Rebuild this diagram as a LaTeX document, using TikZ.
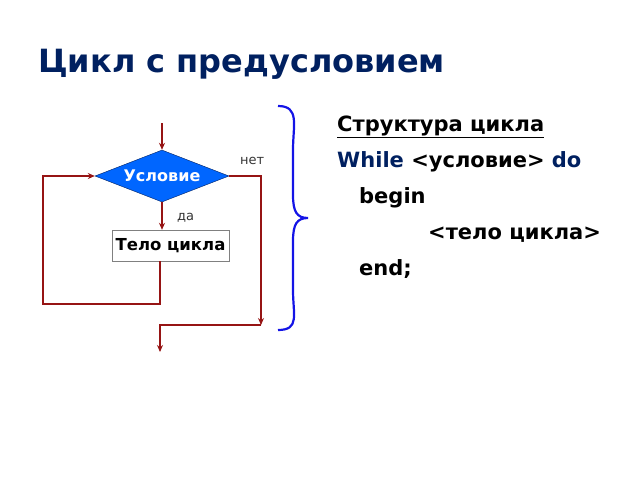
\documentclass[tikz,border=0pt]{standalone}
\usepackage{fontspec}
\setmainfont{DejaVu Sans}
\usepackage{tikz}
\usetikzlibrary{positioning,arrows.meta,shapes.geometric,calc}
\definecolor{fleche}{RGB}{150,20,20}
\definecolor{marine}{RGB}{0,32,96}
\definecolor{losange}{RGB}{0,102,255}
\definecolor{accolade}{RGB}{20,20,230}
\begin{document}
\begin{tikzpicture}[x=1pt, y=-1pt,
    lien/.style={fleche, line width=1.6pt},
    fl/.style={lien, -{Stealth[length=7pt,width=6pt]}},
    cond/.style={diamond, fill=losange, draw=marine, thin, minimum width=134pt, minimum height=52pt, inner sep=0pt, aspect=2.6, text=white, font=\fontsize{16}{18}\selectfont\bfseries},
    bloc/.style={rectangle, draw=gray, fill=white, minimum width=117pt, minimum height=31pt, inner sep=0pt, font=\fontsize{16.5}{18}\selectfont\bfseries},
    code/.style={anchor=base west, inner sep=0pt, font=\fontsize{21}{24}\selectfont\bfseries}]
% Cadre
\useasboundingbox (0,0) rectangle (640,480);

% Titre
\node[anchor=base west, inner sep=0pt, text=marine, font=\fontsize{32}{36}\selectfont\bfseries] (titre) at (38,72) {Цикл с предусловием};

% Schema
\coordinate (entree) at (162,123);
\node[cond] (usl) at (162,176) {Условие};
\node[bloc] (telo) at (170.5,245.5) {Тело цикла};
\coordinate (b1) at (160,304);
\coordinate (b2) at (43,304);
\coordinate (b3) at (43,176);
\coordinate (d1) at (261,176);
\coordinate (d2) at (261,325);
\coordinate (d3) at (160,325);
\coordinate (sortie) at (160,352);

\draw[fl] (entree) -- (usl.north);
\draw[fl] (usl.south) -- (usl.south |- telo.north);
\draw[fl] (telo.south -| b1) -- (b1) -- (b2) -- (b3) -- (usl.west);
\draw[fl] (usl.east) -- (d1) -- (d2);
\draw[fl] (d2) -- (d3) -- (sortie);

\node[anchor=base west, inner sep=0pt, text=black!80, font=\fontsize{13}{15}\selectfont] (net) at (240,164) {нет};
\node[anchor=base west, inner sep=0pt, text=black!80, font=\fontsize{13}{15}\selectfont] (da) at (177,220) {да};

% Accolade
\draw[accolade, line width=2.2pt] (278,106) .. controls (300,106) and (293,125) .. (293,150)
    -- (293,195) .. controls (293,212) and (297,218) .. (308,218)
    .. controls (297,218) and (293,224) .. (293,241)
    -- (293,290) .. controls (293,315) and (300,330) .. (278,330);

% Structure
\node[code] (struct) at (337,131) {\underline{Структура цикла}};
\node[code] (while) at (337,167) {\textcolor{marine}{While} <условие> \textcolor{marine}{do}};
\node[code] (begin) at (359,203) {begin};
\node[code] (corps) at (428,239) {<тело цикла>};
\node[code] (fin) at (359,275) {end;};
\end{tikzpicture}
\end{document}
